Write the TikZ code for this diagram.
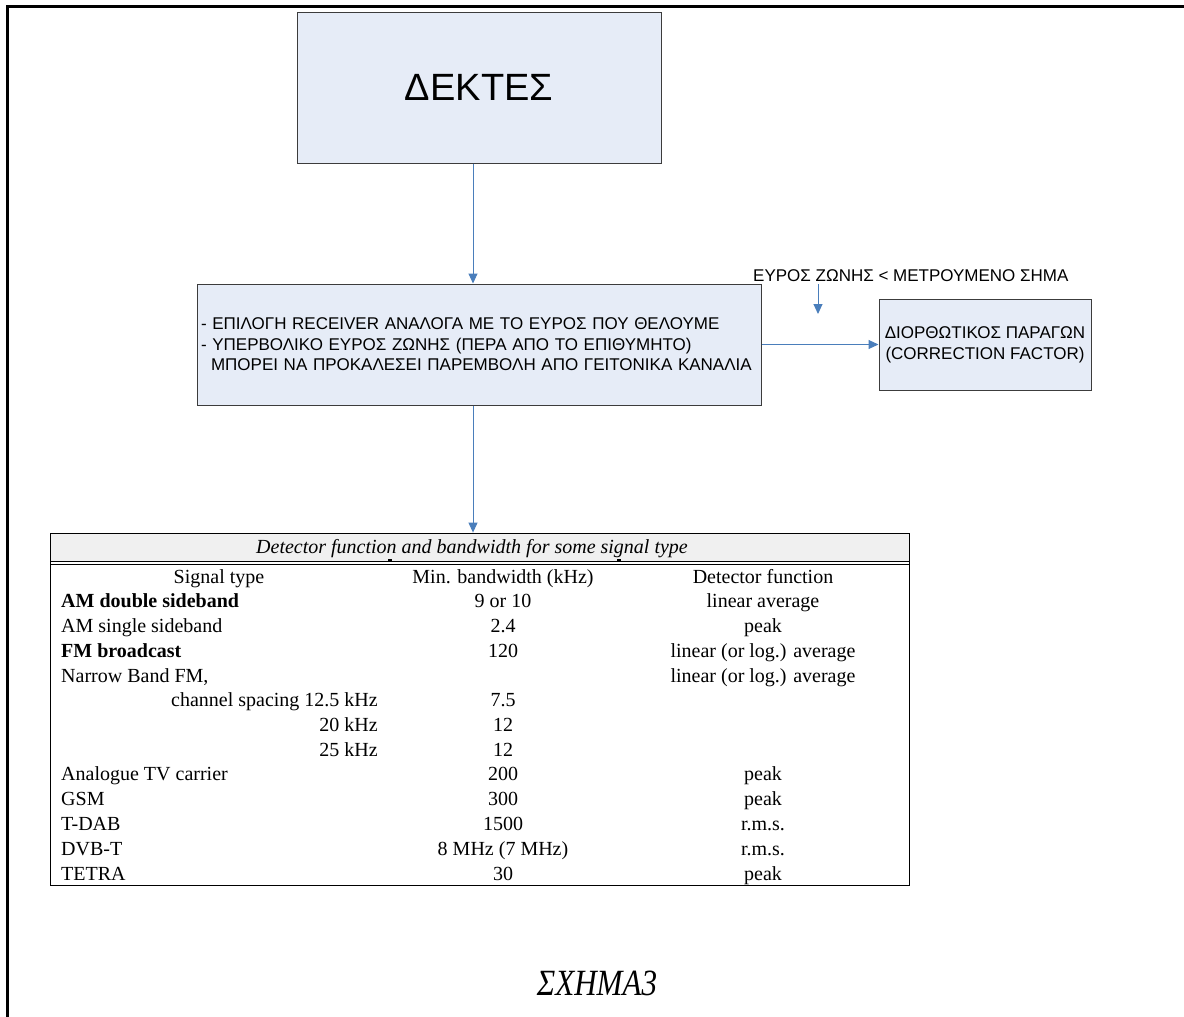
\documentclass[tikz,border=0pt]{standalone}
\usepackage{fontspec}
\setmainfont{Liberation Serif}
\newfontfamily\arialfont{Liberation Sans}
\usetikzlibrary{arrows.meta}
\definecolor{boxfill}{RGB}{230,236,247}
\definecolor{boxline}{RGB}{60,60,60}
\definecolor{linkblue}{RGB}{74,126,187}
\definecolor{headfill}{RGB}{240,240,240}
\tikzset{
  box/.style={draw=boxline, line width=1pt, fill=boxfill, inner sep=0pt},
  link/.style={draw=linkblue, line width=1pt, -{Triangle[length=10pt,width=9pt]}},
  sans/.style={font=\arialfont\fontsize{17}{20.5}\selectfont},
  cell/.style={inner sep=0pt, font=\fontsize{20}{24}\selectfont},
}
\begin{document}
\begin{tikzpicture}[x=1pt,y=-1pt]
\useasboundingbox (0,0) rectangle (1184,1017);
% page frame
\draw[line width=3pt] (1184,6) -- (7,6) -- (7,1017);

% receiver box
\node[box, minimum width=364pt, minimum height=151pt,
      font=\arialfont\fontsize{38}{44}\selectfont] (dektes) at (479,87.5) {ΔΕΚΤΕΣ};

% receiver selection box
\node[box, minimum width=564pt, minimum height=121pt, inner xsep=4pt,
      text width=556pt, align=left, sans] (select) at (479,344.5)
  {- ΕΠΙΛΟΓΗ RECEIVER ΑΝΑΛΟΓΑ ΜΕ ΤΟ ΕΥΡΟΣ ΠΟΥ ΘΕΛΟΥΜΕ\\
   - ΥΠΕΡΒΟΛΙΚΟ ΕΥΡΟΣ ΖΩΝΗΣ (ΠΕΡΑ ΑΠΟ ΤΟ ΕΠΙΘΥΜΗΤΟ)\\
   \hspace*{10pt}ΜΠΟΡΕΙ ΝΑ ΠΡΟΚΑΛΕΣΕΙ ΠΑΡΕΜΒΟΛΗ ΑΠΟ ΓΕΙΤΟΝΙΚΑ ΚΑΝΑΛΙΑ};

% correction factor box
\node[box, minimum width=212pt, minimum height=91pt, align=center,
      font=\arialfont\fontsize{17}{21}\selectfont]
  (corr) at (985,344.5) {\raisebox{-2pt}{ΔΙΟΡΘΩΤΙΚΟΣ ΠΑΡΑΓΩΝ}\\\raisebox{-2pt}{(CORRECTION FACTOR)}};

% condition label and its arrow
\node[sans, inner sep=0pt, anchor=west] (cond) at (753,276)
  {ΕΥΡΟΣ ΖΩΝΗΣ < ΜΕΤΡΟΥΜΕΝΟ ΣΗΜΑ};
\coordinate (condtip) at (818,314);
\draw[link] (cond.south -| condtip) ++(0,2) -- (condtip);

% table frame
\node[draw=black, line width=0.8pt, minimum width=859pt, minimum height=352pt,
      inner sep=0pt] (tab) at (479.5,709) {};
\fill[headfill] (50.5,533.5) rectangle (908.5,560.5);
\draw[line width=0.8pt] (50,561) -- (909,561);
\draw[line width=0.8pt] (50,564) -- (909,564);
\draw[line width=1.5pt] (388,560) -- (392,560);
\draw[line width=1.5pt] (617,560) -- (621,560);

% connectors
\coordinate (axis) at (473,0);
\draw[link] (dektes.south -| axis) -- (select.north -| axis);
\draw[link] (select.south -| axis) -- (tab.north -| axis);
\draw[link] (select.east) -- (corr.west);

\begin{scope}[yshift=-4pt]
\node[cell, font=\itshape\fontsize{20}{24}\selectfont, anchor=mid] (caption)
  at (472,547) {Detector function and bandwidth for some signal type};

% table rows
\node[cell, anchor=mid] (h1) at (219,577) {Signal type};
\node[cell, anchor=mid] (h2) at (503,577) {Min. bandwidth (kHz)};
\node[cell, anchor=mid] (h3) at (763,577) {Detector function};

\node[cell, anchor=mid west, font=\bfseries\fontsize{20}{24}\selectfont] (r1a) at (61,601) {AM double sideband};
\node[cell, anchor=mid] (r1b) at (503,601) {9 or 10};
\node[cell, anchor=mid] (r1c) at (763,601) {linear average};

\node[cell, anchor=mid west] (r2a) at (61,626) {AM single sideband};
\node[cell, anchor=mid] (r2b) at (503,626) {2.4};
\node[cell, anchor=mid] (r2c) at (763,626) {peak};

\node[cell, anchor=mid west, font=\bfseries\fontsize{20}{24}\selectfont] (r3a) at (61,651) {FM broadcast};
\node[cell, anchor=mid] (r3b) at (503,651) {120};
\node[cell, anchor=mid] (r3c) at (763,651) {linear (or log.) average};

\node[cell, anchor=mid west] (r4a) at (61,676) {Narrow Band FM,};
\node[cell, anchor=mid] (r4c) at (763,676) {linear (or log.) average};

\node[cell, anchor=mid east] (r5a) at (378,700) {channel spacing 12.5 kHz};
\node[cell, anchor=mid] (r5b) at (503,700) {7.5};

\node[cell, anchor=mid east] (r6a) at (378,725) {20 kHz};
\node[cell, anchor=mid] (r6b) at (503,725) {12};

\node[cell, anchor=mid east] (r7a) at (378,750) {25 kHz};
\node[cell, anchor=mid] (r7b) at (503,750) {12};

\node[cell, anchor=mid west] (r8a) at (61,774) {Analogue TV carrier};
\node[cell, anchor=mid] (r8b) at (503,774) {200};
\node[cell, anchor=mid] (r8c) at (763,774) {peak};

\node[cell, anchor=mid west] (r9a) at (61,799) {GSM};
\node[cell, anchor=mid] (r9b) at (503,799) {300};
\node[cell, anchor=mid] (r9c) at (763,799) {peak};

\node[cell, anchor=mid west] (r10a) at (61,824) {T-DAB};
\node[cell, anchor=mid] (r10b) at (503,824) {1500};
\node[cell, anchor=mid] (r10c) at (763,824) {r.m.s.};

\node[cell, anchor=mid west] (r11a) at (61,849) {DVB-T};
\node[cell, anchor=mid] (r11b) at (503,849) {8 MHz (7 MHz)};
\node[cell, anchor=mid] (r11c) at (763,849) {r.m.s.};

\node[cell, anchor=mid west] (r12a) at (61,874) {TETRA};
\node[cell, anchor=mid] (r12b) at (503,874) {30};
\node[cell, anchor=mid] (r12c) at (763,874) {peak};
\end{scope}

% figure title
\node[inner sep=0pt, font=\itshape\fontsize{37}{44}\selectfont] (title) at (597,983)
  {\scalebox{0.84}[1]{ΣΧΗΜΑ3}};
\end{tikzpicture}
\end{document}
